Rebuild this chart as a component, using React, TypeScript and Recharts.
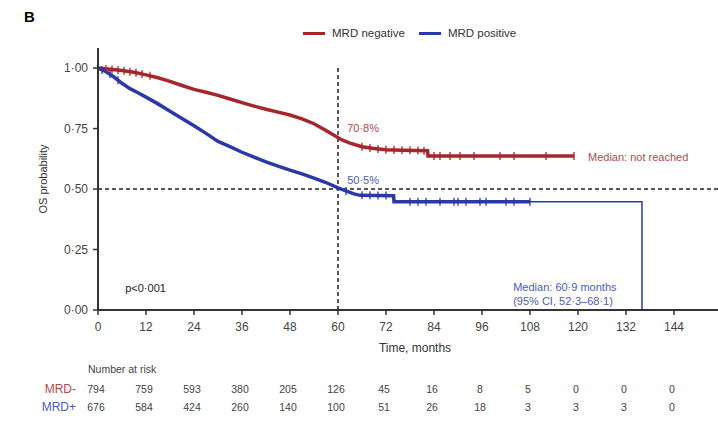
import {
  ComposedChart,
  Label,
  Legend,
  Line,
  ReferenceDot,
  ReferenceLine,
  Scatter,
  XAxis,
  YAxis,
} from 'recharts';

// Kaplan-Meier OS by MRD status, panel B.
const months = [0, 12, 24, 36, 48, 60, 72, 84, 96, 108, 120, 132, 144];
const yTicks = [0, 0.25, 0.5, 0.75, 1];
const riskNeg = [794, 759, 593, 380, 205, 126, 45, 16, 8, 5, 0, 0, 0];
const riskPos = [676, 584, 424, 260, 140, 100, 51, 26, 18, 3, 3, 3, 0];

const seriesNames = ['MRD negative', 'MRD positive'];

// [month, survival] points
const negCurve = [
  [0, 1], [3, 0.995], [6, 0.99], [9, 0.983], [12, 0.972], [15, 0.96], [18, 0.945],
  [21, 0.928], [24, 0.912], [27, 0.9], [30, 0.887], [33, 0.872], [36, 0.857],
  [39, 0.843], [42, 0.83], [45, 0.818], [48, 0.806], [51, 0.79], [54, 0.77],
  [57, 0.742], [59, 0.722], [61, 0.703], [63, 0.69], [66, 0.675], [69, 0.668],
  [72, 0.662], [76, 0.66], [82.4, 0.658], [82.5, 0.637], [119, 0.637],
];
const posCurve = [
  [0, 1], [2, 0.985], [4, 0.963], [6, 0.937], [8, 0.915], [10, 0.898], [12, 0.88],
  [15, 0.852], [18, 0.822], [21, 0.792], [24, 0.762], [27, 0.73], [30, 0.697],
  [33, 0.675], [36, 0.652], [39, 0.632], [42, 0.612], [45, 0.595], [48, 0.578],
  [51, 0.563], [54, 0.545], [57, 0.527], [60, 0.505], [62, 0.492], [64, 0.48],
  [65.5, 0.474], [73.9, 0.472], [74, 0.447], [108, 0.447],
];
const posTail = [[108, 0.447], [136, 0.447], [136, 0]];

const negCensored = [
  [2, 0.996], [3.5, 0.994], [5, 0.992], [6.5, 0.989], [8, 0.985], [9.5, 0.981],
  [11, 0.976], [13, 0.968], [66, 0.675], [68, 0.67], [70, 0.666], [72, 0.662],
  [74, 0.661], [76, 0.66], [78, 0.66], [80, 0.659], [81.5, 0.658], [84, 0.637],
  [85.5, 0.637], [88, 0.637], [90.5, 0.637], [94, 0.637], [100.5, 0.637],
  [104, 0.637], [112, 0.637], [119, 0.637],
];
const posCensored = [
  [1, 0.992], [3, 0.974], [5, 0.95], [62, 0.492], [66, 0.474], [68, 0.474],
  [70, 0.473], [72, 0.473], [78, 0.447], [80, 0.447], [82, 0.447], [85.5, 0.447],
  [89, 0.447], [90, 0.447], [92, 0.447], [95.5, 0.447], [97, 0.447], [102, 0.447],
  [104, 0.447], [108, 0.447],
];

const red = '#a5262b';
const blue = '#2b38a8';
const redText = '#b5474a';
const blueText = '#4b5cb5';
const ink = '#333';
const font = 'Liberation Sans, Arial, sans-serif';

const toPts = (arr: number[][]) => arr.map(([t, s]) => ({ t, s }));
const fmt = (v: number) => v.toFixed(2).replace('.', '·');

const censorMark = (color: string) => (p: any) => (
  <line x1={p.cx} x2={p.cx} y1={p.cy - 4} y2={p.cy + 4} stroke={color} strokeWidth={1.3} />
);

const note = (text: string, color: string, size = 11, anchor = 'start') => (p: any) => (
  <text x={p.cx} y={p.cy} fill={color} fontSize={size} fontFamily={font} textAnchor={anchor}>
    {text}
  </text>
);

// number-at-risk rows sit below the axis, in data units of the y scale
const rowTitle = -0.26;
const rowNeg = -0.343;
const rowPos = -0.417;

const renderLegend = () => (
  <div style={{ display: 'flex', alignItems: 'center', fontFamily: font, fontSize: 11.5, color: ink }}>
    {seriesNames.map((n, i) => (
      <div key={n} style={{ display: 'flex', alignItems: 'center', marginRight: 14 }}>
        <span style={{ display: 'inline-block', width: 22, height: 3, background: i ? blue : red, marginRight: 7 }} />
        {n}
      </div>
    ))}
  </div>
);

export default function App() {
  return (
    <div style={{ position: 'absolute', left: 0, top: 0, width: 718, height: 421, background: '#fff' }}>
      <div style={{ position: 'absolute', left: 24, top: 8, fontFamily: font, fontWeight: 700, fontSize: 15 }}>B</div>
      <ComposedChart width={718} height={421} margin={{ top: 48, right: 0, left: 0, bottom: 61 }}>
        <XAxis
          dataKey="t"
          type="number"
          domain={[0, 155]}
          ticks={months}
          interval={0}
          height={50}
          allowDataOverflow
          tick={{ fill: '#444', fontSize: 12, fontFamily: font }}
          tickSize={5}
          tickMargin={7}
          axisLine={{ stroke: ink, strokeWidth: 2 }}
          tickLine={{ stroke: ink, strokeWidth: 1.5 }}
        >
          <Label
            content={({ viewBox }: any) => (
              <text
                x={viewBox.x + viewBox.width / 2 + 7}
                y={viewBox.y + 42}
                textAnchor="middle"
                fill={ink}
                fontSize={12}
                fontFamily={font}
              >
                Time, months
              </text>
            )}
          />
        </XAxis>
        <YAxis
          type="number"
          domain={[0, 1.083]}
          ticks={yTicks}
          width={98}
          allowDataOverflow
          tickFormatter={fmt}
          tick={{ fill: '#444', fontSize: 12, fontFamily: font }}
          tickSize={5}
          tickMargin={5}
          axisLine={{ stroke: ink, strokeWidth: 2 }}
          tickLine={{ stroke: ink, strokeWidth: 1.5 }}
        >
          <Label
            content={({ viewBox }: any) => {
              const x = 43;
              const y = viewBox.y + viewBox.height / 2;
              return (
                <text
                  x={x}
                  y={y}
                  transform={`rotate(-90, ${x}, ${y})`}
                  textAnchor="middle"
                  dominantBaseline="central"
                  fill={ink}
                  fontSize={11}
                  fontFamily={font}
                >
                  OS probability
                </text>
              );
            }}
          />
        </YAxis>
        <Legend
          layout="horizontal"
          verticalAlign="middle"
          align="center"
          content={renderLegend}
          wrapperStyle={{ top: 27, left: 303, width: 260, height: 18 }}
        />
        <ReferenceLine y={0.5} stroke="#222" strokeWidth={1.5} strokeDasharray="4 3" />
        <ReferenceLine
          segment={[{ x: 60, y: 0 }, { x: 60, y: 1 }]}
          stroke="#222"
          strokeWidth={1.5}
          strokeDasharray="4 3"
        />
        <Line data={toPts(negCurve)} dataKey="s" type="linear" stroke={red} strokeWidth={3.5} dot={false} isAnimationActive={false} legendType="none" />
        <Line data={toPts(posCurve)} dataKey="s" type="linear" stroke={blue} strokeWidth={3.5} dot={false} isAnimationActive={false} legendType="none" />
        <Line data={toPts(posTail)} dataKey="s" type="linear" stroke={blue} strokeWidth={1.5} dot={false} isAnimationActive={false} legendType="none" />
        <Scatter data={toPts(negCensored)} dataKey="s" shape={censorMark(red)} isAnimationActive={false} legendType="none" />
        <Scatter data={toPts(posCensored)} dataKey="s" shape={censorMark(blue)} isAnimationActive={false} legendType="none" />
        <ReferenceDot x={62.3} y={0.735} r={0} shape={note('70·8%', redText)} />
        <ReferenceDot x={62.3} y={0.52} r={0} shape={note('50·5%', blueText)} />
        <ReferenceDot x={122.5} y={0.616} r={0} shape={note('Median: not reached', redText)} />
        <ReferenceDot x={103.8} y={0.079} r={0} shape={note('Median: 60·9 months', blueText)} />
        <ReferenceDot x={103.8} y={0.021} r={0} shape={note('(95% CI, 52·3–68·1)', blueText)} />
        <ReferenceDot x={6.8} y={0.074} r={0} shape={note('p<0·001', '#222')} />
        <ReferenceDot x={-2.5} y={rowTitle} r={0} ifOverflow="visible" shape={note('Number at risk', '#444', 10.5)} />
        <ReferenceDot x={-5.5} y={rowNeg} r={0} ifOverflow="visible" shape={note('MRD-', redText, 12, 'end')} />
        <ReferenceDot x={-5.5} y={rowPos} r={0} ifOverflow="visible" shape={note('MRD+', blueText, 12, 'end')} />
        {months.map((m, i) => (
          <ReferenceDot key={`n${m}`} x={m - 0.5} y={rowNeg} r={0} ifOverflow="visible" shape={note(String(riskNeg[i]), '#444', 10.5, 'middle')} />
        ))}
        {months.map((m, i) => (
          <ReferenceDot key={`p${m}`} x={m - 0.5} y={rowPos} r={0} ifOverflow="visible" shape={note(String(riskPos[i]), '#444', 10.5, 'middle')} />
        ))}
      </ComposedChart>
    </div>
  );
}
